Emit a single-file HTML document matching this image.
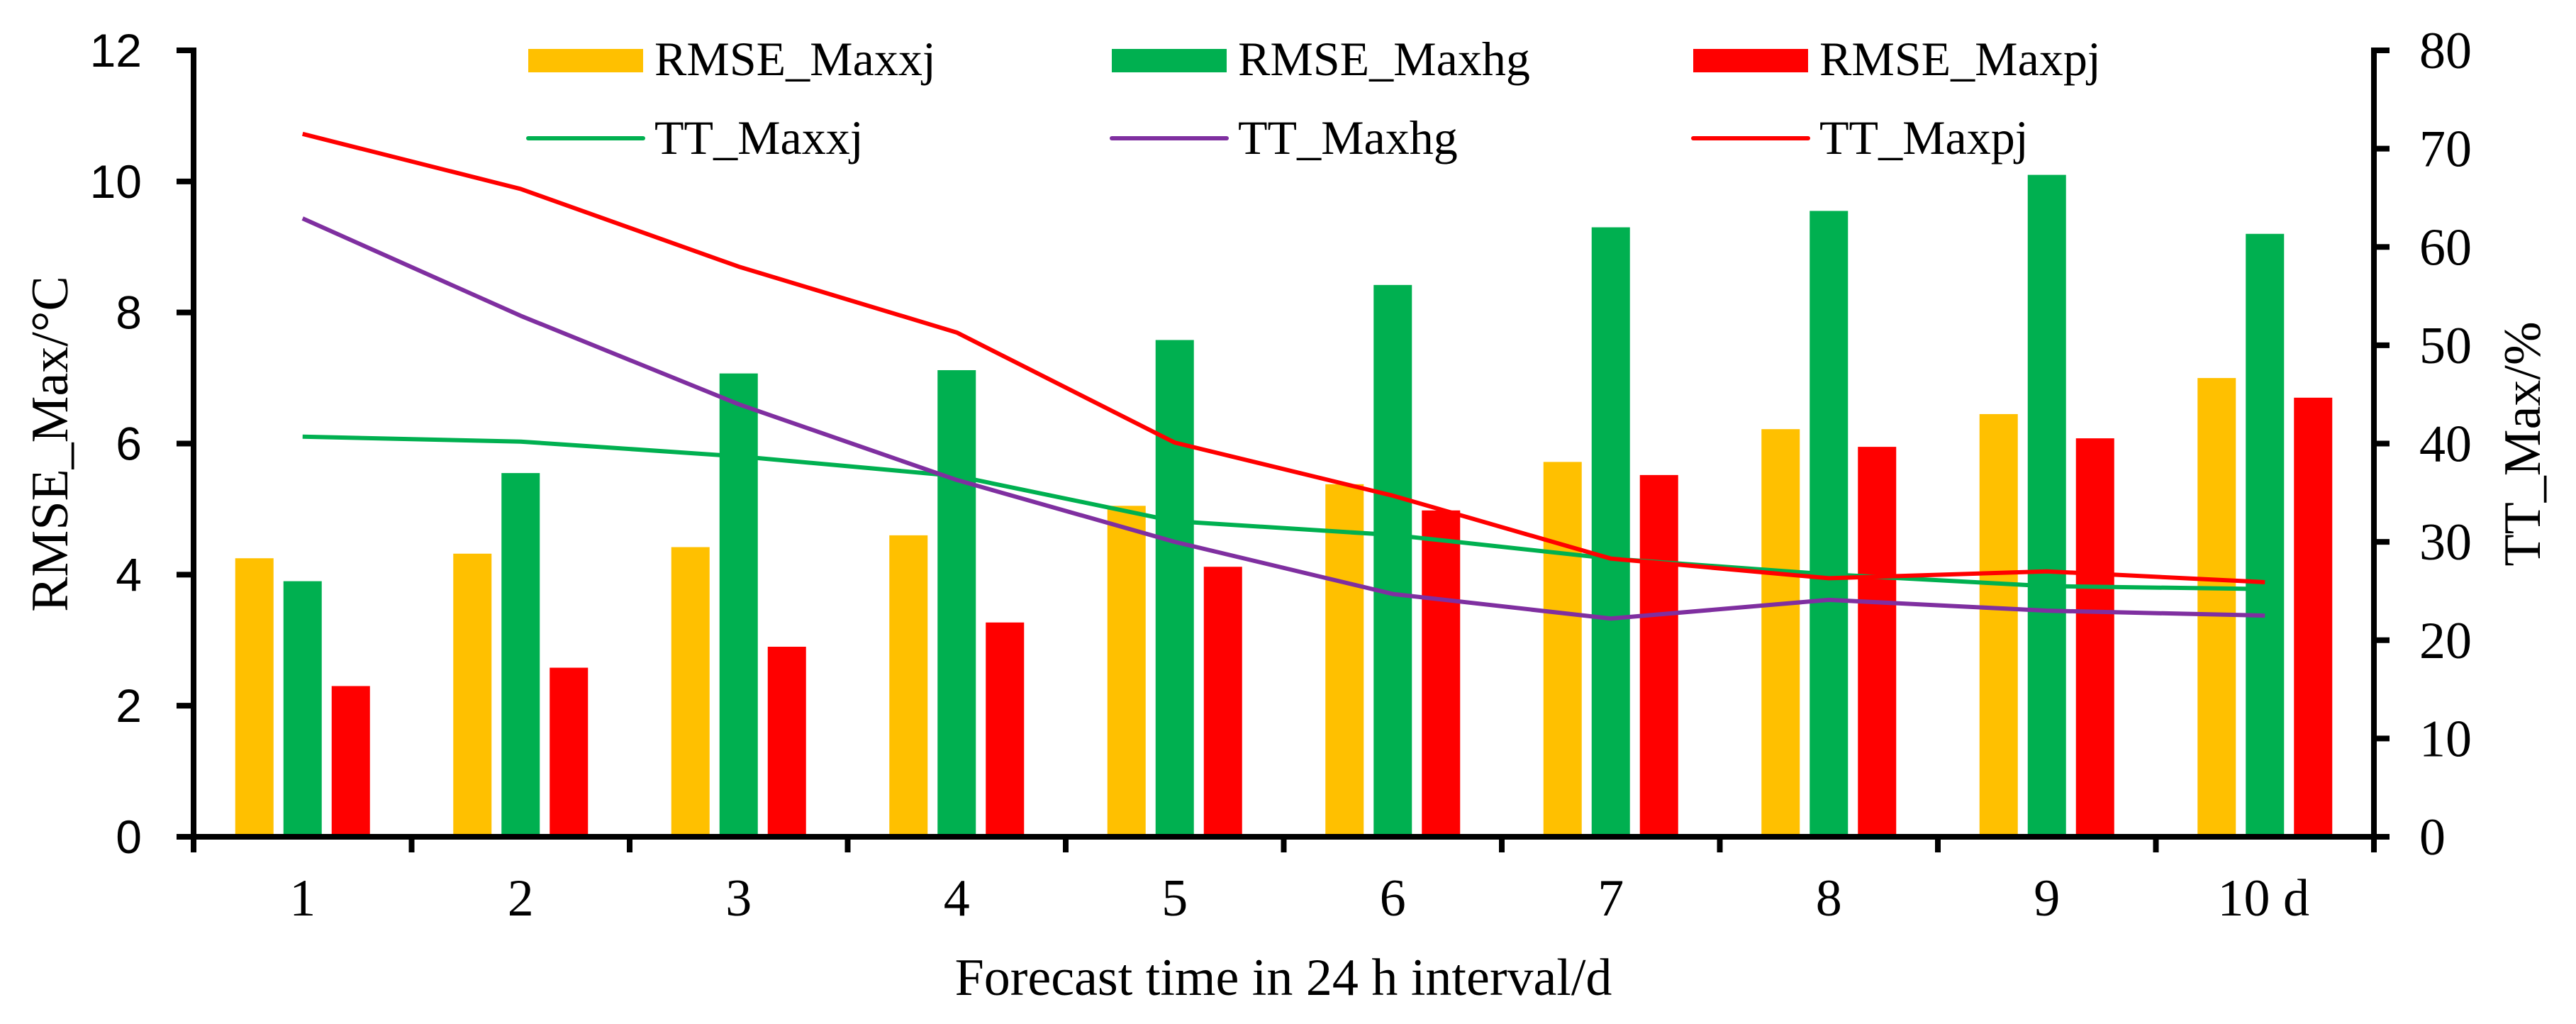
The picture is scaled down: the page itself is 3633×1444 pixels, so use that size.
<!DOCTYPE html>
<html><head><meta charset="utf-8"><style>
html,body{margin:0;padding:0;background:#fff;width:3633px;height:1444px;overflow:hidden}
</style></head><body>
<svg id="chart" width="3633" height="1444" viewBox="0 0 3633 1444" xmlns="http://www.w3.org/2000/svg">
<rect width="3633" height="1444" fill="#fff"/>
</svg>
<script>
const categories = ["1","2","3","4","5","6","7","8","9","10 d"];
const rmseXj = [4.25,4.32,4.42,4.6,5.05,5.38,5.72,6.22,6.45,7.0];
const rmseHg = [3.9,5.55,7.07,7.12,7.58,8.42,9.3,9.55,10.1,9.2];
const rmsePj = [2.3,2.58,2.9,3.27,4.12,4.98,5.52,5.95,6.08,6.7];
const ttXj = [40.7,40.2,38.7,36.7,32.1,30.7,28.3,26.7,25.5,25.2];
const ttHg = [62.9,53,44,36.3,30,24.7,22.2,24.1,23,22.5];
const ttPj = [71.5,65.9,58,51.3,40.1,34.7,28.3,26.3,27,25.9];
const leftTicks = [0,2,4,6,8,10,12];
const rightTicks = [0,10,20,30,40,50,60,70,80];

const NS="http://www.w3.org/2000/svg";
const svg=document.getElementById('chart');
const X0=273, X1=3348, Y0=1180, YT=71;
const step=(X1-X0)/categories.length;
const yL=v=>Y0-(v/12)*(Y0-YT);
const yR=v=>Y0-(v/80)*(Y0-YT);
const xC=i=>X0+step*(i+0.5);
function el(tag,attrs,parent){const e=document.createElementNS(NS,tag);for(const k in attrs)e.setAttribute(k,attrs[k]);(parent||svg).appendChild(e);return e;}

// bars
const barW=54, pitch=68;
const series=[[rmseXj,"#FFC000","bar-rmse-maxxj"],[rmseHg,"#00B050","bar-rmse-maxhg"],[rmsePj,"#FF0000","bar-rmse-maxpj"]];
series.forEach((s,si)=>{
  s[0].forEach((v,i)=>{
    const cx=xC(i)+(si-1)*pitch;
    const r=el('rect',{x:cx-barW/2,y:yL(v),width:barW,height:Y0-yL(v),fill:s[1]});
    
    
  });
});
// lines
const lines=[[ttXj,"#00B050","line-tt-maxxj"],[ttHg,"#7F2FA0","line-tt-maxhg"],[ttPj,"#FF0000","line-tt-maxpj"]];
lines.forEach(l=>{
  const p=el('polyline',{points:l[0].map((v,i)=>xC(i)+','+yR(v)).join(' '),fill:'none',stroke:l[1],'stroke-width':6,'stroke-linejoin':'round'});
  
  
});
// axes
const ax=el('g',{stroke:'#000','stroke-width':8,fill:'none'});


el('line',{x1:X0,y1:YT-4,x2:X0,y2:1202},ax);
el('line',{x1:X1,y1:YT-4,x2:X1,y2:1202},ax);
el('line',{x1:249,y1:Y0,x2:X1,y2:Y0},ax);
for(let i=0;i<=categories.length;i++){el('line',{x1:X0+step*i,y1:Y0,x2:X0+step*i,y2:1202},ax);}
leftTicks.forEach(v=>{el('line',{x1:249,y1:yL(v),x2:X0,y2:yL(v)},ax);
  const t=el('text',{x:200,y:yL(v)+23,'text-anchor':'end','font-family':'Liberation Sans, sans-serif','font-size':66,fill:'#000'});t.textContent=v;
  
  });
rightTicks.forEach(v=>{el('line',{x1:X1,y1:yR(v),x2:3370,y2:yR(v)},ax);
  const t=el('text',{x:3412,y:yR(v)+25,'font-family':'Liberation Serif, serif','font-size':74,fill:'#000'});t.textContent=v;
  
  });
categories.forEach((c,i)=>{const t=el('text',{x:xC(i)+(i==9?-2:0),y:1291,'text-anchor':'middle','font-family':'Liberation Serif, serif','font-size':74,fill:'#000'});t.textContent=c;
  
  });
// titles
let t=el('text',{x:1810,y:1403,'text-anchor':'middle','font-family':'Liberation Serif, serif','font-size':74,fill:'#000'});t.textContent='Forecast time in 24 h interval/d';


t=el('text',{x:0,y:0,'text-anchor':'middle','font-family':'Liberation Serif, serif','font-size':74,fill:'#000',transform:'translate(95,626) rotate(-90)'});t.textContent='RMSE_Max/°C';


t=el('text',{x:0,y:0,'text-anchor':'middle','font-family':'Liberation Serif, serif','font-size':74,fill:'#000',transform:'translate(3582,626) rotate(-90)'});t.textContent='TT_Max/%';


// legend
const leg=[[745,"RMSE_Maxxj","#FFC000",0],[1568,"RMSE_Maxhg","#00B050",0],[2388,"RMSE_Maxpj","#FF0000",0],
           [745,"TT_Maxxj","#00B050",1],[1568,"TT_Maxhg","#7F2FA0",1],[2388,"TT_Maxpj","#FF0000",1]];
leg.forEach(l=>{
  const g=el('g',{});
  
  
  if(l[3]==0){el('rect',{x:l[0],y:69,width:162,height:33,fill:l[2]},g);}
  else{el('line',{x1:l[0],y1:195,x2:l[0]+162,y2:195,stroke:l[2],'stroke-width':6,'stroke-linecap':'round'},g);}
  const tx=el('text',{x:l[0]+178,y:l[3]==0?106:217,'font-family':'Liberation Serif, serif','font-size':68,fill:'#000'},g);tx.textContent=l[1];
});
</script>
</body></html>
